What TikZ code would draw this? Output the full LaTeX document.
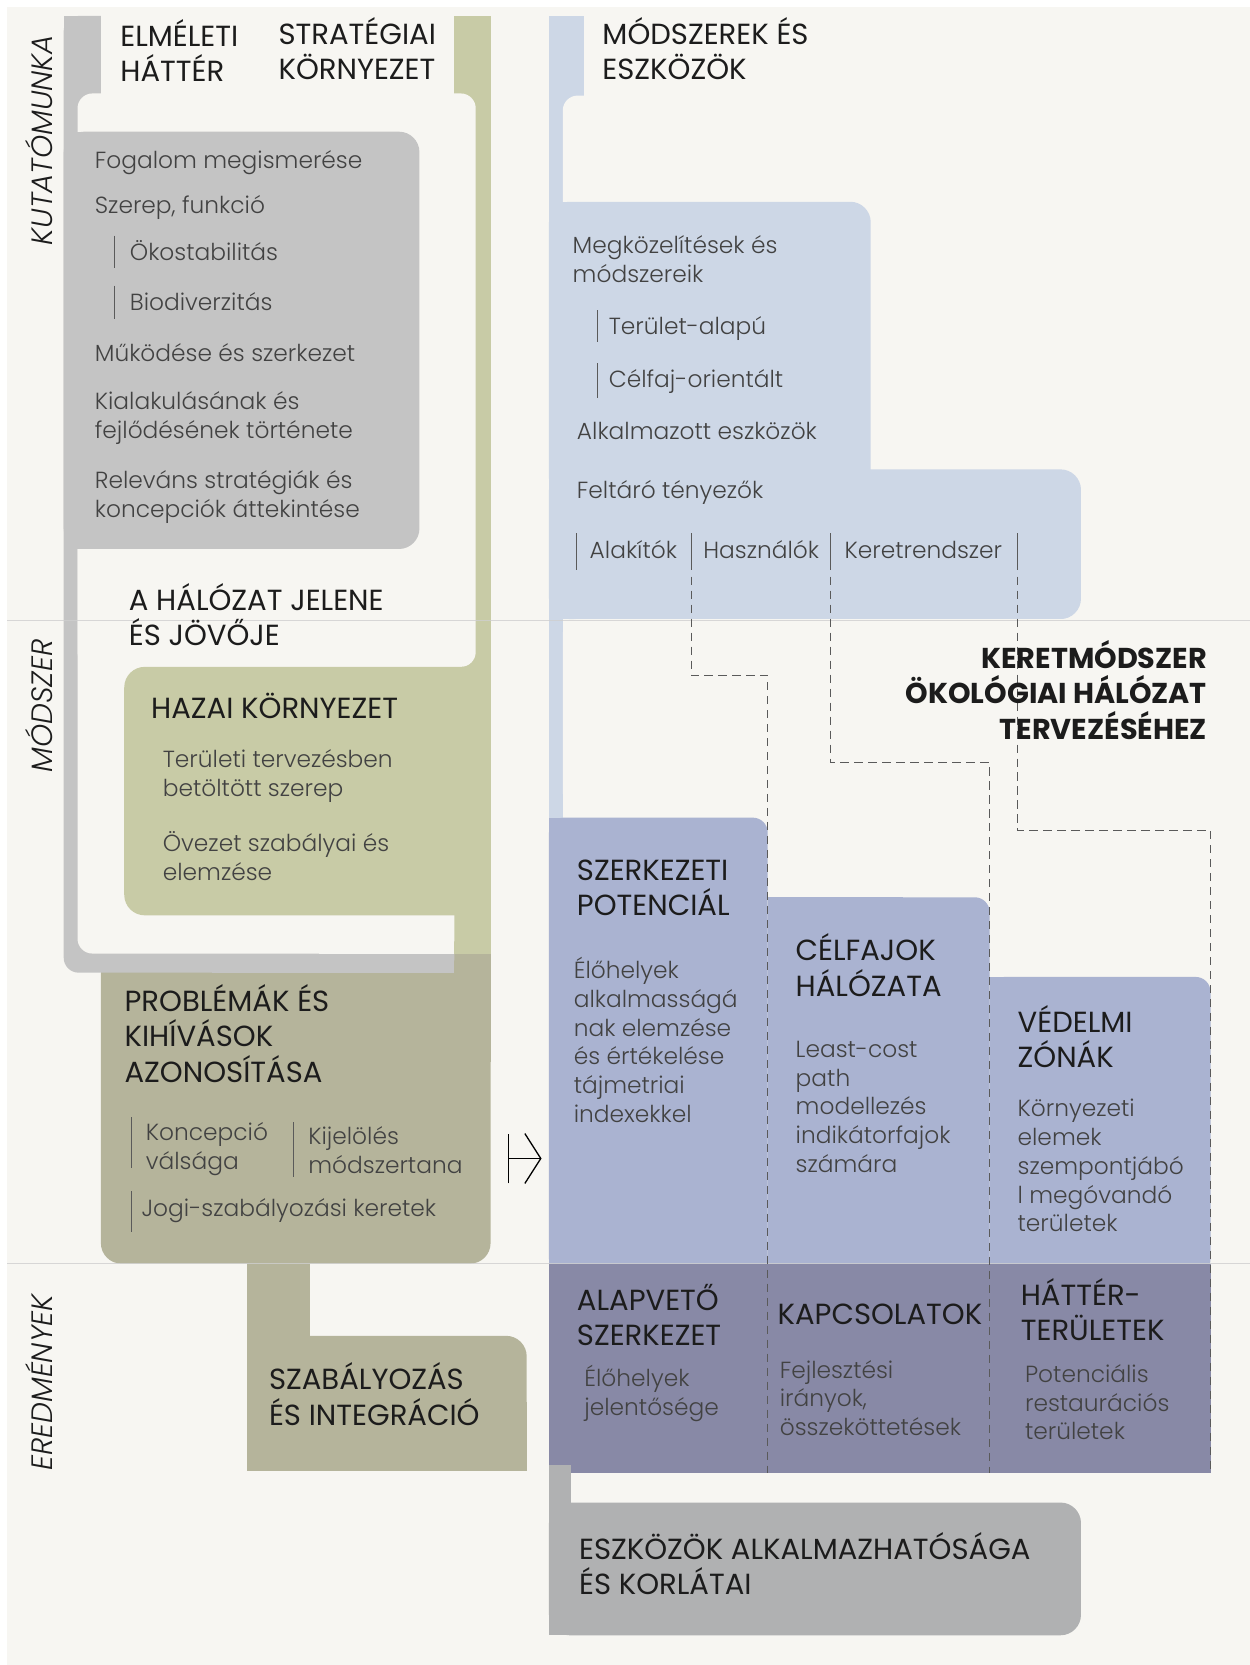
\documentclass[tikz,border=0pt]{standalone}
\usepackage{fontspec}
\setmainfont{Poppins}
\newfontfamily\lightfont{Poppins Light}
\usetikzlibrary{arrows.meta}

\definecolor{paperc}{HTML}{F7F6F2}
\definecolor{framec}{HTML}{C4C4C4}
\definecolor{olivec}{HTML}{C8CBA6}
\definecolor{khakic}{HTML}{B5B49B}
\definecolor{skyc}{HTML}{CDD7E6}
\definecolor{midc}{HTML}{AAB3D1}
\definecolor{darkc}{HTML}{8889A6}
\definecolor{boxgreyc}{HTML}{B0B1B2}
\definecolor{inkc}{HTML}{1C1C1C}
\definecolor{bodyc}{HTML}{424242}
\definecolor{dashc}{HTML}{5A5A5A}
\definecolor{sepc}{HTML}{CFCFCF}

\begin{document}
\begin{tikzpicture}[x=0.02cm,y=-0.02cm,
    head/.style={anchor=base west,align=left,inner sep=0pt,text=inkc,
      font=\fontsize{15.6}{18.8}\selectfont},
    body/.style={anchor=base west,align=left,inner sep=0pt,text=bodyc,
      font=\lightfont\fontsize{12.5}{15.4}\selectfont},
    side/.style={rotate=90,inner sep=0pt,text=inkc,
      font=\lightfont\itshape\fontsize{15.8}{18}\selectfont},
    tick/.style={draw=dashc,line width=0.5pt},
    guide/.style={draw=dashc,line width=0.6pt,dash pattern=on 4.5pt off 3pt},
    sepline/.style={draw=sepc,line width=0.6pt,opacity=0.8}]
    \useasboundingbox (0,0) rectangle (1177,1568);
    \fill[white] (0,0) rectangle (1177,1568);
    \fill[paperc] (7,7) rectangle (1177,1568);

    % Bal oldal: problémák, szabályozás
    \fill[khakic,rounded corners=11pt] (95,898) rectangle (462,1190);
    \fill[khakic] (95,898) rectangle (462,1000);
    \fill[khakic] (233,1185) rectangle (292,1262);
    \fill[khakic,rounded corners=11pt] (233,1258) rectangle (496,1385);
    \fill[khakic] (233,1258) rectangle (400,1385);
    \fill[khakic] (233,1320) rectangle (496,1385);
    % Keret: elméleti háttér, stratégiai környezet
    \fill[framec,rounded corners=8pt] (60,15) rectangle (428,916);
    \fill[framec] (60,15) rectangle (428,700);
    \fill[framec] (200,15) rectangle (428,916);
    \fill[paperc] (95,10) rectangle (428,90);
    \fill[olivec] (428,15) rectangle (462,898);
    \fill[paperc,rounded corners=8pt] (73,88) rectangle (448,628);
    \fill[paperc,rounded corners=8pt] (73,300) rectangle (428,898);
    \fill[paperc] (300,300) rectangle (428,898);
    \fill[framec,rounded corners=11pt] (60,124) rectangle (395,517);
    \fill[framec] (60,124) rectangle (200,517);
    \fill[olivec,rounded corners=11pt] (117,628) rectangle (462,862);
    \fill[olivec] (300,628) rectangle (462,862);

    % Jobb oldal: módszerek és eszközök
    \fill[skyc] (517,15) rectangle (550,120);
    \fill[skyc] (517,15) rectangle (530,790);
    \fill[paperc,rounded corners=8pt] (530,90) rectangle (700,300);
    \fill[skyc,rounded corners=11pt] (517,190) rectangle (820,470);
    \fill[skyc] (517,190) rectangle (650,470);
    \fill[skyc,rounded corners=11pt] (517,442) rectangle (1018,583);
    \fill[skyc] (517,442) rectangle (800,583);
    \fill[paperc,rounded corners=8pt] (530,583) rectangle (1100,760);
    % Keretmódszer lépcsői
    \fill[midc,rounded corners=8pt] (517,770) rectangle (723,1200);
    \fill[midc] (517,770) rectangle (650,1200);
    \fill[midc,rounded corners=8pt] (723,845) rectangle (932,1200);
    \fill[midc] (723,845) rectangle (850,1200);
    \fill[midc,rounded corners=8pt] (932,920) rectangle (1140,1200);
    \fill[midc] (932,920) rectangle (1050,1200);
    \fill[darkc] (517,1190) rectangle (1140,1387);
    \fill[boxgreyc] (517,1380) rectangle (538,1420);
    \fill[boxgreyc,rounded corners=11pt] (517,1415) rectangle (1018,1540);
    \fill[boxgreyc] (517,1415) rectangle (700,1540);

    % Elválasztó vonalak
    \draw[sepline] (7,584) -- (1177,584);
    \draw[sepline] (7,1190) -- (1177,1190);

    % Tényezők szaggatott vonalai
    \draw[tick] (543,502) -- (543,537);
    \draw[tick] (651,502) -- (651,537);
    \draw[tick] (782,502) -- (782,537);
    \draw[tick] (958,502) -- (958,537);
    \draw[guide] (651,543) -- (651,636) -- (723,636) -- (723,1387);
    \draw[guide] (782,543) -- (782,718) -- (932,718) -- (932,1387);
    \draw[guide] (958,543) -- (958,782) -- (1140,782) -- (1140,1387);

    % Alpontok jelölése
    \draw[tick] (108,222) -- (108,252);
    \draw[tick] (108,269) -- (108,300);
    \draw[tick] (563,292) -- (563,322);
    \draw[tick] (563,342) -- (563,375);
    \draw[tick] (124,1052) -- (124,1100);
    \draw[tick] (276,1057) -- (276,1108);
    \draw[tick] (124,1122) -- (124,1160);

    % Oldalcímkék
    \node[side] (kutatas) at (37,132) {KUTATÓMUNKA};
    \node[side] (modszer) at (37,665) {MÓDSZER};
    \node[side] (eredmeny) at (37,1302) {EREDMÉNYEK};

    % Címek (a base az utolsó sor alapvonala)
    \node[head] (elmeleti) at (113,77) {ELMÉLETI\\HÁTTÉR};
    \node[head] (strategiai) at (262,75) {STRATÉGIAI\\KÖRNYEZET};
    \node[head] (eszkozok) at (567,75) {MÓDSZEREK ÉS\\ESZKÖZÖK};
    \node[head] (jelene) at (121,608) {A HÁLÓZAT JELENE\\ÉS JÖVŐJE};
    \node[head] (hazai) at (142,677) {HAZAI KÖRNYEZET};
    \node[head] (problemak) at (117,1019) {PROBLÉMÁK ÉS\\KIHÍVÁSOK\\AZONOSÍTÁSA};
    \node[head] (szabalyozas) at (253,1342) {SZABÁLYOZÁS\\ÉS INTEGRÁCIÓ};
    \node[head] (potencial) at (543,862) {SZERKEZETI\\POTENCIÁL};
    \node[head] (celfajok) at (749,938) {CÉLFAJOK\\HÁLÓZATA};
    \node[head] (vedelmi) at (958,1005) {VÉDELMI\\ZÓNÁK};
    \node[head] (alapveto) at (543,1267) {ALAPVETŐ\\SZERKEZET};
    \node[head] (kapcsolatok) at (732,1247) {KAPCSOLATOK};
    \node[head] (hatter) at (961,1262) {HÁTTÉR-\\TERÜLETEK};
    \node[head] (korlatai) at (545,1502) {ESZKÖZÖK ALKALMAZHATÓSÁGA\\ÉS KORLÁTAI};
    \node[head,anchor=base east,align=right,font=\bfseries\fontsize{15.4}{18.8}\selectfont]
      (keret) at (1137,696) {KERETMÓDSZER\\ÖKOLÓGIAI HÁLÓZAT\\TERVEZÉSÉHEZ};

    % Szövegek
    \node[body] (fogalom) at (89,159) {Fogalom megismerése};
    \node[body] (szerep) at (89,201) {Szerep, funkció};
    \node[body] (oko) at (122,245) {Ökostabilitás};
    \node[body] (bio) at (122,292) {Biodiverzitás};
    \node[body] (mukodes) at (89,340) {Működése és szerkezet};
    \node[body] (kialakulas) at (89,413) {Kialakulásának és\\fejlődésének története};
    \node[body] (relevans) at (89,487) {Releváns stratégiák és\\koncepciók áttekintése};
    \node[body] (teruleti) at (153,750) {Területi tervezésben\\betöltött szerep};
    \node[body] (ovezet) at (153,829) {Övezet szabályai és\\elemzése};
    \node[body] (koncepcio) at (137,1101) {Koncepció\\válsága};
    \node[body] (kijeloles) at (290,1105) {Kijelölés\\módszertana};
    \node[body] (jogi) at (133,1146) {Jogi-szabályozási keretek};
    \node[body] (megkoz) at (539,266) {Megközelítések és\\módszereik};
    \node[body] (terulet) at (573,315) {Terület-alapú};
    \node[body] (celfaj) at (573,365) {Célfaj-orientált};
    \node[body] (alkalmazott) at (543,414) {Alkalmazott eszközök};
    \node[body] (feltaro) at (543,469) {Feltáró tényezők};
    \node[body] (alakitok) at (555,526) {Alakítók};
    \node[body] (hasznalok) at (662,526) {Használók};
    \node[body] (keretrendszer) at (795,526) {Keretrendszer};
    \node[body] (elohelyek) at (540,1057) {Élőhelyek\\alkalmasságá\\nak elemzése\\és értékelése\\tájmetriai\\indexekkel};
    \node[body] (leastcost) at (749,1104) {Least-cost\\path\\modellezés\\indikátorfajok\\számára};
    \node[body] (kornyezeti) at (958,1160) {Környezeti\\elemek\\szempontjábó\\l megóvandó\\területek};
    \node[body] (jelentoseg) at (550,1333) {Élőhelyek\\jelentősége};
    \node[body] (fejlesztesi) at (734,1352) {Fejlesztési\\irányok,\\összeköttetések};
    \node[body] (potencialis) at (965,1356) {Potenciális\\restaurációs\\területek};

    % Nyíl
    \coordinate (nyilA) at (478,1091);
    \coordinate (nyilB) at (510,1091);
    \draw[line width=0.7pt,{Bar[width=9.4mm]}-{Straight Barb[length=3mm,width=9.4mm]}]
      (nyilA) -- (nyilB);
\end{tikzpicture}
\end{document}
